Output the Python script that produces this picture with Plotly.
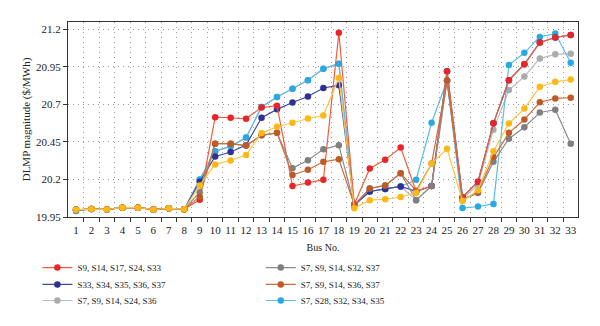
import plotly.graph_objects as go

# Bus numbers of the distribution feeder
buses = list(range(1, 34))
bus_labels = [str(b) for b in buses]

# DLMP magnitude ($/MWh) at each bus for each switch configuration
s9_s14_s17_s24_s33 = [19.998, 20.003, 20.000, 20.012, 20.012, 20.000, 20.008, 20.002,
                      20.064, 20.614, 20.610, 20.603, 20.678, 20.690, 20.156, 20.179,
                      20.198, 21.175, 20.035, 20.273, 20.330, 20.412, 20.120, 20.156,
                      20.920, 20.082, 20.185, 20.573, 20.860, 20.966, 21.111, 21.144, 21.161]
s33_s34_s35_s36_s37 = [19.998, 20.003, 20.000, 20.012, 20.012, 20.000, 20.008, 20.002,
                       20.185, 20.353, 20.382, 20.428, 20.610, 20.666, 20.712, 20.751,
                       20.808, 20.826, 20.030, 20.120, 20.137, 20.153, 20.120, 20.156,
                       20.920, 20.082, 20.185, 20.573, 20.860, 20.966, 21.111, 21.144, 21.161]
s7_s9_s14_s24_s36 = [19.998, 20.003, 20.000, 20.012, 20.012, 20.000, 20.008, 20.002,
                     20.200, 20.388, 20.420, 20.478, 20.682, 20.748, 20.803, 20.860,
                     20.936, 20.970, 20.030, 20.120, 20.137, 20.153, 20.062, 20.156,
                     20.858, 20.070, 20.165, 20.531, 20.794, 20.884, 21.005, 21.032, 21.036]
s7_s9_s14_s32_s37 = [19.998, 20.003, 20.000, 20.012, 20.012, 20.000, 20.008, 20.002,
                     20.115, 20.438, 20.438, 20.425, 20.493, 20.510, 20.275, 20.328,
                     20.400, 20.428, 20.028, 20.140, 20.160, 20.241, 20.062, 20.156,
                     20.858, 20.065, 20.110, 20.317, 20.471, 20.547, 20.645, 20.664, 20.438]
s7_s9_s14_s36_s37 = [19.998, 20.003, 20.000, 20.012, 20.012, 20.000, 20.008, 20.002,
                     20.085, 20.438, 20.438, 20.425, 20.493, 20.510, 20.229, 20.264,
                     20.317, 20.334, 20.030, 20.140, 20.160, 20.241, 20.125, 20.306,
                     20.858, 20.065, 20.118, 20.347, 20.510, 20.598, 20.713, 20.739, 20.743]
s7_s28_s32_s34_s35 = [19.990, 20.003, 20.000, 20.012, 20.012, 20.000, 20.008, 20.002,
                      20.200, 20.388, 20.420, 20.478, 20.682, 20.748, 20.803, 20.860,
                      20.936, 20.970, 20.027, 20.120, 20.137, 20.153, 20.198, 20.577,
                      20.858, 20.010, 20.020, 20.037, 20.961, 21.042, 21.148, 21.170, 20.976]
base_case = [19.998, 20.003, 20.000, 20.012, 20.012, 20.000, 20.008, 20.002,
             20.160, 20.300, 20.326, 20.362, 20.508, 20.550, 20.577, 20.605,
             20.625, 20.875, 20.009, 20.062, 20.068, 20.083, 20.110, 20.306,
             20.404, 20.056, 20.128, 20.387, 20.572, 20.671, 20.816, 20.849, 20.864]

y_ticks = [19.95, 20.2, 20.45, 20.7, 20.95, 21.2]
y_tick_labels = ["19.95", "20.2", "20.45", "20.7", "20.95", "21.2"]

FONT = "Liberation Serif"

# (name, values, marker colour, line colour, legend id) in drawing order
series = [
    ("S7, S9, S14, S24, S36", s7_s9_s14_s24_s36, "#ababab", "#bcbcbc", "legend3"),
    ("S7, S28, S32, S34, S35", s7_s28_s32_s34_s35, "#27a9e1", "#5bbbe9", "legend6"),
    ("S33, S34, S35, S36, S37", s33_s34_s35_s36_s37, "#2e3192", "#3f48a8", "legend2"),
    ("S9, S14, S17, S24, S33", s9_s14_s17_s24_s33, "#e8262a", "#ef5f3c", "legend"),
    ("S7, S9, S14, S32, S37", s7_s9_s14_s32_s37, "#7f7f7f", "#8c8c8c", "legend4"),
    ("S7, S9, S14, S36, S37", s7_s9_s14_s36_s37, "#bf5a27", "#cf6d3a", "legend5"),
    ("Base", base_case, "#fbb817", "#fcc545", None),
]

fig = go.Figure()
for name, vals, mcol, lcol, leg in series:
    fig.add_trace(go.Scatter(
        x=buses, y=vals, name=name, mode="lines+markers",
        line=dict(color=lcol, width=1.2),
        marker=dict(color=mcol, size=6.5),
        legend=leg if leg else "legend",
        showlegend=leg is not None,
    ))

grid_dash = "1px,4px"
axis_common = dict(
    showline=True, linecolor="#333333", linewidth=1, mirror=True,
    tickfont=dict(family=FONT, size=11, color="#222222"),
    zeroline=False, automargin=False,
)

fig.update_xaxes(
    range=[0.48, 33.47],
    tickmode="array", tickvals=buses, ticktext=bus_labels,
    ticks="", showgrid=False, ticklabelstandoff=3,
    minor=dict(tickmode="array", tickvals=[b + 0.5 for b in buses[:-1]],
               ticks="outside", ticklen=4, tickcolor="#333333",
               showgrid=True, gridcolor="#9a9a9a", griddash=grid_dash, gridwidth=1),
    title=dict(text="Bus No.", font=dict(family=FONT, size=10, color="#222222"), standoff=8),
    **axis_common,
)
fig.update_yaxes(
    range=[19.95, 21.247],
    tickmode="array", tickvals=y_ticks, ticktext=y_tick_labels,
    ticks="outside", ticklen=4, tickcolor="#333333",
    showgrid=True, gridcolor="#9a9a9a", griddash=grid_dash, gridwidth=1,
    title=dict(text="DLMP magnitude ($/MWh)", font=dict(family=FONT, size=11, color="#222222"), standoff=3),
    **axis_common,
)

# Two columns of three legend rows below the x axis
legend_style = dict(
    orientation="v", xanchor="left", yanchor="middle",
    font=dict(family=FONT, size=9, color="#222222"),
    itemwidth=30, bgcolor="rgba(0,0,0,0)",
)
col_x = [-0.06, 0.378]
row_y = [-0.253, -0.339, -0.421]
legend_ids = ["legend", "legend2", "legend3", "legend4", "legend5", "legend6"]
layout_legends = {}
for i, lid in enumerate(legend_ids):
    col, row = divmod(i, 3)
    layout_legends[lid] = dict(x=col_x[col], y=row_y[row], **legend_style)

fig.update_layout(
    width=600, height=326,
    margin=dict(l=68, r=22, t=22, b=108),
    paper_bgcolor="white", plot_bgcolor="white",
    showlegend=True,
    **layout_legends,
)

fig.write_html("out.html")
